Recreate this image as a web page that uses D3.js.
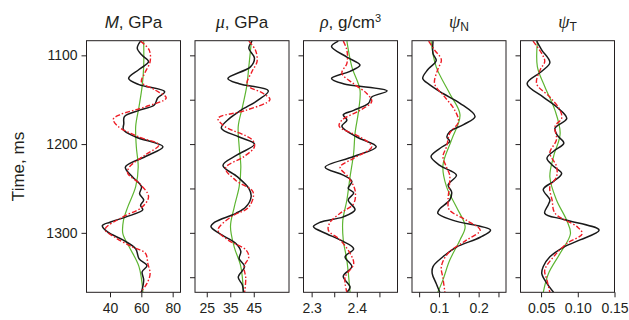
<!DOCTYPE html>
<html>
<head>
<meta charset="utf-8">
<script src="https://cdn.jsdelivr.net/npm/d3@7"></script>
<style>
body { margin: 0; background: #fff; }
text { font-family: "Liberation Sans", Arial, sans-serif; fill: #231f20; }
</style>
</head>
<body>
<script>
// time axis (ms)
var timeDomain = [1083.5, 1367];
var timeTicks = [1100, 1150, 1200, 1250, 1300, 1350];
var timeLabels = [1100, 1200, 1300];

// x ticks per panel
var mTicks = [40, 60, 80];
var muTicks = [25, 35, 45];
var rhoTicks = [2.3, 2.35, 2.4, 2.45];
var rhoLabels = [2.3, 2.4];
var psiNTicks = [0.05, 0.1, 0.15, 0.2, 0.25];
var psiNLabels = [0.1, 0.2];
var psiTTicks = [0.05, 0.1, 0.15];

// curves: [time, value]
var mBlack = [[1084,59.5],[1092,57.4],[1100,60.5],[1107,64.6],[1116,58.5],[1126,51.9],[1133,58.5],[1141,74.9],[1148,70.4],[1156,68.3],[1162,58.5],[1169,49.2],[1177,48.8],[1184,48.6],[1192,56.4],[1203,73.8],[1214,62.6],[1226,49.8],[1237,54.4],[1248,60.1],[1256,58.9],[1263,61.5],[1269,59.5],[1274,60.9],[1282,50.3],[1288,40],[1292,35.1],[1299,38.4],[1308,48.2],[1318,56.4],[1329,58.5],[1337,63.6],[1344,60.5],[1353,61.5],[1367,60.1]];
var mRed = [[1084,59.5],[1094,65],[1107,65.6],[1120,62.2],[1130,60.1],[1139,68.7],[1148,75.9],[1158,62.6],[1167,46.2],[1172,42.1],[1180,45.1],[1192,58.5],[1201,71.2],[1212,62.6],[1226,52.3],[1233,51.3],[1244,58.5],[1259,64.6],[1271,60.5],[1282,48.2],[1296,36.9],[1305,43.1],[1316,54.4],[1323,62.6],[1335,64.2],[1346,65.6],[1357,63.6],[1367,59.5]];
var mGreen = [[1084,61.5],[1113,61.5],[1135,60.5],[1158,58.5],[1180,56.4],[1203,56.8],[1226,58],[1248,56.4],[1271,51.3],[1286,48.6],[1301,48.2],[1316,52.3],[1338,58.5],[1367,61]];

var muBlack = [[1084,44.3],[1092,42.9],[1103,45.3],[1113,43.6],[1126,34],[1132,38.8],[1140,51.2],[1150,47.1],[1162,39.5],[1171,34.7],[1182,31.2],[1192,38.8],[1200,45.3],[1212,38.1],[1224,31.9],[1237,38.1],[1250,42.9],[1259,43.9],[1271,41.6],[1278,37.4],[1288,28.4],[1293,26.8],[1301,30.5],[1312,37.4],[1321,39.5],[1329,38.8],[1338,41.1],[1350,38.4],[1359,40.2],[1367,40.6]];
var muRed = [[1084,42.9],[1094,45.7],[1107,46.4],[1118,44.3],[1133,42.2],[1143,49.1],[1150,51.9],[1162,41.6],[1171,29.8],[1180,32.6],[1195,44.3],[1203,45.3],[1214,40.9],[1227,33],[1241,37.4],[1254,44.7],[1271,42.9],[1282,35.3],[1297,29.8],[1308,34],[1319,41.6],[1327,42.9],[1338,40.9],[1351,41.6],[1367,41.1]];
var muGreen = [[1084,44],[1113,42.9],[1135,42],[1158,40.2],[1180,38.4],[1203,38.8],[1226,39.5],[1248,38.8],[1271,36.7],[1293,35.1],[1316,36.7],[1338,39.5],[1367,40.6]];

var rhoBlack = [[1084,2.359],[1090,2.344],[1102,2.378],[1111,2.407],[1118,2.385],[1126,2.344],[1132,2.370],[1140,2.467],[1147,2.433],[1154,2.426],[1162,2.393],[1167,2.370],[1173,2.378],[1180,2.367],[1192,2.400],[1203,2.443],[1214,2.393],[1226,2.330],[1235,2.370],[1242,2.389],[1250,2.381],[1255,2.393],[1263,2.381],[1274,2.396],[1282,2.370],[1288,2.319],[1293,2.304],[1301,2.333],[1308,2.363],[1318,2.393],[1327,2.374],[1338,2.389],[1349,2.370],[1361,2.385],[1367,2.378]];
var rhoRed = [[1084,2.370],[1094,2.378],[1109,2.378],[1120,2.367],[1132,2.393],[1143,2.422],[1152,2.433],[1162,2.407],[1173,2.367],[1180,2.361],[1192,2.407],[1203,2.433],[1216,2.393],[1226,2.363],[1237,2.381],[1252,2.396],[1267,2.393],[1278,2.363],[1288,2.341],[1297,2.337],[1308,2.363],[1323,2.385],[1335,2.393],[1350,2.374],[1367,2.378]];
var rhoGreen = [[1084,2.378],[1113,2.389],[1139,2.407],[1162,2.404],[1188,2.396],[1210,2.393],[1237,2.385],[1263,2.378],[1286,2.369],[1308,2.370],[1331,2.378],[1367,2.385]];

var psiNBlack = [[1084,0.085],[1098,0.085],[1106,0.093],[1116,0.072],[1126,0.059],[1133,0.076],[1143,0.110],[1154,0.153],[1169,0.191],[1178,0.162],[1186,0.127],[1192,0.120],[1197,0.127],[1205,0.102],[1214,0.080],[1224,0.102],[1235,0.144],[1246,0.123],[1254,0.132],[1263,0.127],[1273,0.102],[1278,0.097],[1286,0.136],[1297,0.230],[1305,0.204],[1316,0.144],[1327,0.110],[1338,0.085],[1346,0.083],[1357,0.093],[1367,0.102]];
var psiNRed = [[1084,0.074],[1094,0.089],[1105,0.106],[1116,0.097],[1132,0.089],[1147,0.115],[1162,0.140],[1175,0.149],[1188,0.127],[1203,0.119],[1214,0.110],[1226,0.119],[1235,0.127],[1248,0.126],[1263,0.123],[1274,0.126],[1286,0.170],[1297,0.204],[1308,0.170],[1323,0.123],[1338,0.106],[1351,0.110],[1367,0.115]];
var psiNGreen = [[1084,0.080],[1113,0.093],[1143,0.127],[1167,0.153],[1195,0.132],[1224,0.110],[1248,0.119],[1271,0.144],[1293,0.166],[1308,0.153],[1331,0.127],[1353,0.110],[1367,0.097]];

var psiTBlack = [[1084,0.044],[1094,0.051],[1108,0.062],[1118,0.051],[1132,0.031],[1147,0.053],[1158,0.071],[1171,0.085],[1182,0.069],[1190,0.072],[1199,0.081],[1208,0.067],[1216,0.058],[1225,0.067],[1233,0.078],[1242,0.067],[1251,0.053],[1263,0.062],[1268,0.060],[1278,0.055],[1285,0.081],[1297,0.129],[1308,0.103],[1316,0.081],[1327,0.062],[1338,0.053],[1346,0.051],[1357,0.058],[1367,0.067]];
var psiTRed = [[1084,0.039],[1098,0.051],[1107,0.055],[1116,0.049],[1132,0.044],[1147,0.062],[1162,0.076],[1171,0.078],[1180,0.069],[1195,0.071],[1210,0.062],[1225,0.071],[1237,0.071],[1248,0.062],[1263,0.065],[1278,0.069],[1293,0.099],[1301,0.106],[1312,0.085],[1327,0.067],[1342,0.055],[1353,0.058],[1367,0.062]];
var psiTGreen = [[1084,0.045],[1113,0.045],[1135,0.055],[1162,0.069],[1188,0.076],[1214,0.067],[1237,0.062],[1263,0.071],[1286,0.085],[1301,0.090],[1323,0.076],[1346,0.060],[1367,0.053]];

function init() {
    var w = 629;
    var h = 320;
    var top = 40.7, bottom = 292.3;
    var firstLeft = 86.5, step = 108.5, pw = 94;
    var ink = "#231f20";

    var panels = [
        { domain: [25, 85], ticks: mTicks, labels: mTicks, fmt: d3.format("d"), black: mBlack, red: mRed, green: mGreen },
        { domain: [20, 60], ticks: muTicks, labels: muTicks, fmt: d3.format("d"), black: muBlack, red: muRed, green: muGreen },
        { domain: [2.282, 2.49], ticks: rhoTicks, labels: rhoLabels, fmt: d3.format(".1f"), black: rhoBlack, red: rhoRed, green: rhoGreen },
        { domain: [0.032, 0.269], ticks: psiNTicks, labels: psiNLabels, fmt: d3.format(".1f"), black: psiNBlack, red: psiNRed, green: psiNGreen },
        { domain: [0.022, 0.15], ticks: psiTTicks, labels: psiTTicks, fmt: d3.format(".2f"), black: psiTBlack, red: psiTRed, green: psiTGreen }
    ];

    var svg = d3.select("body")
        .append("svg")
        .attr("width", w)
        .attr("height", h);

    var yScale = d3.scaleLinear()
        .domain(timeDomain)
        .range([top, bottom]);

    panels.forEach(function (p, i) {
        var left = firstLeft + i * step;
        var xScale = d3.scaleLinear()
            .domain(p.domain)
            .range([left, left + pw]);

        svg.append("clipPath")
            .attr("id", "clip" + i)
            .append("rect")
            .attr("x", left)
            .attr("y", top)
            .attr("width", pw)
            .attr("height", bottom - top);

        var line = d3.line()
            .x(function (d) { return xScale(d[1]); })
            .y(function (d) { return yScale(d[0]); })
            .curve(d3.curveCatmullRom.alpha(0.5));

        var g = svg.append("g").attr("clip-path", "url(#clip" + i + ")");

        g.append("path")
            .datum(p.green)
            .attr("d", line)
            .attr("fill", "none")
            .attr("stroke", "#5db531")
            .attr("stroke-width", 1.2);

        g.append("path")
            .datum(p.black)
            .attr("d", line)
            .attr("fill", "none")
            .attr("stroke", "#1a1a1a")
            .attr("stroke-width", 1.5);

        g.append("path")
            .datum(p.red)
            .attr("d", line)
            .attr("fill", "none")
            .attr("stroke", "#ee1c25")
            .attr("stroke-width", 1.4)
            .attr("stroke-dasharray", "5,2,1.5,2");

        // box
        svg.append("rect")
            .attr("x", left)
            .attr("y", top)
            .attr("width", pw)
            .attr("height", bottom - top)
            .attr("fill", "none")
            .attr("stroke", ink)
            .attr("stroke-width", 1);

        // x axis
        var xAxis = d3.axisBottom(xScale)
            .tickValues(p.ticks)
            .tickSize(5)
            .tickPadding(6)
            .tickFormat(function (d) {
                return p.labels.indexOf(d) >= 0 ? p.fmt(d) : "";
            });
        var gx = svg.append("g")
            .attr("transform", "translate(0," + bottom + ")")
            .call(xAxis);
        gx.select(".domain").remove();
        gx.selectAll("line").attr("stroke", ink);
        gx.selectAll("text")
            .style("font-size", "14px")
            .attr("fill", ink);

        // y axis
        var yAxis = d3.axisLeft(yScale)
            .tickValues(i === 0 ? timeLabels : timeTicks)
            .tickSize(5)
            .tickPadding(4)
            .tickFormat(i === 0 ? d3.format("d") : "");
        var gy = svg.append("g")
            .attr("transform", "translate(" + left + ",0)")
            .call(yAxis);
        gy.select(".domain").remove();
        gy.selectAll("line").attr("stroke", ink);
        gy.selectAll("text")
            .style("font-size", "14px")
            .attr("fill", ink);
    });

    // panel titles
    var titleY = 27.5;
    var cx = function (i) { return firstLeft + i * step + pw / 2; };
    var greek = "'Liberation Serif', 'DejaVu Serif', serif";

    var t0 = svg.append("text").attr("x", cx(0)).attr("y", titleY)
        .attr("text-anchor", "middle").style("font-size", "17px");
    t0.append("tspan").style("font-style", "italic").text("M");
    t0.append("tspan").text(", GPa");

    var t1 = svg.append("text").attr("x", cx(1)).attr("y", titleY)
        .attr("text-anchor", "middle").style("font-size", "17px");
    t1.append("tspan").style("font-style", "italic").style("font-family", greek).style("font-size", "18px").text("μ");
    t1.append("tspan").text(", GPa");

    var t2 = svg.append("text").attr("x", cx(2)).attr("y", titleY)
        .attr("text-anchor", "middle").style("font-size", "17px");
    t2.append("tspan").style("font-style", "italic").style("font-family", greek).style("font-size", "18px").text("ρ");
    t2.append("tspan").text(", g/cm");
    t2.append("tspan").attr("dy", -6).style("font-size", "11px").text("3");

    ["N", "T"].forEach(function (s, k) {
        var t = svg.append("text").attr("x", cx(3 + k)).attr("y", titleY)
            .attr("text-anchor", "middle").style("font-size", "17px");
        t.append("tspan").style("font-style", "italic").style("font-family", greek).style("font-size", "18px").text("ψ");
        t.append("tspan").attr("dy", 3).style("font-size", "12px").text(s);
    });

    // y axis title
    svg.append("text")
        .attr("transform", "translate(24," + ((top + bottom) / 2) + ") rotate(-90)")
        .attr("text-anchor", "middle")
        .style("font-size", "17px")
        .text("Time, ms");
}

window.onload = init;
</script>
</body>
</html>
